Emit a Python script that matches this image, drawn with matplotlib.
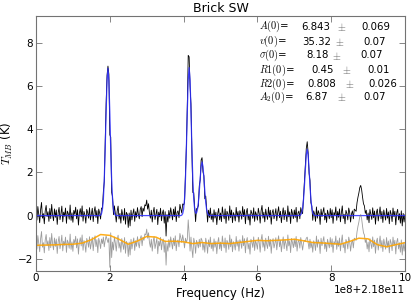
import numpy as np
import matplotlib
matplotlib.use("Agg")
import matplotlib.pyplot as plt

plt.rcParams['mathtext.fontset'] = 'cm'

# ---------------- data (frequency axis in units of 1e8 Hz above 2.18e11 Hz) ----------------
OFFSET_LABEL = '1e8+2.18e11'
STEP = 0.025

# observed minus fitted model (K), one value per channel, channels 0 .. 10 (x1e8 Hz)
residual_K = [
    0.15,-0.21,0.42,0.05,-0.33,0.28,0.61,-0.12,0.09,-0.38,0.22,0.47,-0.05,0.18,-0.27,0.33,-0.14,0.52,0.02,-0.24,
    0.31,-0.08,0.26,-0.41,0.12,0.38,-0.19,0.07,0.44,-0.29,0.16,-0.03,0.35,-0.36,0.21,0.09,-0.17,0.49,-0.22,0.13,
    -0.31,0.24,0.06,0.39,-0.15,0.27,-0.44,0.11,0.32,-0.06,0.45,-0.26,0.19,0.03,-0.35,0.29,0.14,-0.12,0.37,-0.20,
    0.08,0.34,-0.28,0.17,0.41,-0.09,0.23,-0.37,0.30,0.12,-0.18,0.26,0.05,0.35,-0.10,0.20,0.40,0.25,0.10,0.30,
    -1.05,0.55,-0.60,0.12,-0.25,0.36,0.08,-0.30,0.21,0.44,-0.16,0.10,-0.35,0.28,0.02,-0.22,0.33,-0.40,0.15,0.06,
    -0.55,0.12,-0.48,0.25,-0.20,0.09,0.31,-0.27,0.18,-0.08,0.37,0.05,-0.15,0.28,0.42,-0.05,0.35,0.20,0.50,0.45,
    0.72,0.30,0.55,0.10,-0.12,0.25,-0.30,0.14,0.38,-0.18,0.07,0.29,-0.42,0.16,-0.06,0.34,-0.24,0.11,0.26,-0.35,
    0.18,-0.95,0.05,-0.30,0.24,-0.12,0.36,0.08,-0.20,0.30,-0.05,0.41,-0.28,0.15,0.22,-0.10,0.52,0.30,0.10,0.45,
    0.20,-0.15,0.30,0.10,0.25,1.15,0.50,-0.30,0.35,-0.20,-0.60,0.30,0.10,-0.40,0.20,0.05,-0.15,0.25,-0.10,0.30,
    0.20,-0.25,0.10,-0.35,0.30,0.05,-0.40,0.22,-0.10,0.35,-0.18,0.08,-0.30,0.27,-0.12,0.16,-0.42,0.10,0.33,-0.20,
    0.12,-0.28,0.40,0.05,-0.15,0.31,-0.36,0.20,0.08,-0.22,0.45,-0.10,0.26,-0.33,0.14,0.02,-0.25,0.38,-0.07,0.19,
    -0.30,0.23,0.10,-0.17,0.42,-0.05,0.28,-0.38,0.15,0.33,-0.20,0.07,-0.44,0.25,0.11,-0.13,0.36,-0.27,0.18,0.04,
    -0.21,0.34,0.09,-0.35,0.22,0.47,-0.12,0.16,-0.29,0.30,0.02,-0.18,0.39,-0.08,0.25,-0.40,0.13,0.28,-0.15,0.06,
    0.32,-0.24,0.14,0.41,-0.10,0.20,-0.33,0.07,0.36,-0.19,0.24,0.03,-0.28,0.45,-0.06,0.17,-0.37,0.29,0.10,-0.14,
    0.26,-0.09,0.38,-0.30,0.12,0.21,-0.16,0.33,0.05,-0.25,0.10,0.20,0.15,0.30,0.35,0.10,-0.20,0.25,-0.15,0.10,
    -0.35,0.18,0.06,-0.27,0.40,-0.12,0.23,0.09,-0.41,0.30,-0.05,0.16,0.37,-0.20,0.11,-0.32,0.25,0.04,-0.15,0.33,
    -0.10,0.27,-0.36,0.14,0.02,0.40,-0.22,0.19,-0.08,0.31,-0.29,0.12,0.45,-0.14,0.06,-0.38,0.24,0.10,-0.20,0.35,
    0.15,-0.30,0.08,0.22,-0.15,0.30,0.25,0.20,0.60,0.85,1.05,1.30,1.40,1.20,0.85,0.55,0.45,0.10,0.25,-0.20,
    0.12,-0.33,0.28,0.05,-0.18,0.36,-0.10,0.21,-0.40,0.14,0.30,-0.25,0.08,0.40,-0.15,0.19,-0.32,0.26,0.03,-0.21,
    0.33,-0.12,0.17,-0.38,0.24,0.07,-0.28,0.35,-0.05,0.20,-0.43,0.12,0.29,-0.20,0.09,-0.35,0.22,-0.48,0.10,-0.30,
    0.05,
]

# fitted model (K), non-zero segments: (start frequency, values)
model_seg1_start = 1.75
model_seg1 = [0.02,0.09,0.29,0.75,1.67,3.09,4.80,6.26,6.84,6.26,4.80,3.09,1.67,0.75,0.29,0.09,0.02]
model_seg2_start = 3.95
model_seg2 = [0.02,0.09,0.29,0.75,1.67,3.11,4.83,6.29,6.87,6.29,4.83,3.11,1.67,0.76,0.30,0.12,
              0.12,0.28,0.61,1.13,1.75,2.28,2.49,2.28,1.75,1.13,0.61,0.27,0.10,0.03,0.01]
model_seg3_start = 7.15
model_seg3 = [0.01,0.04,0.13,0.34,0.75,1.39,2.16,2.82,3.08,2.82,2.16,1.39,0.75,0.34,0.13,0.04,0.01]

RESID_OFFSET = -1.35

# smoothed residual baseline (orange), sampled every 0.25
smooth_freq = [0.0,0.25,0.5,0.75,1.0,1.25,1.5,1.75,2.0,2.25,2.5,2.75,3.0,3.25,3.5,3.75,4.0,4.25,4.5,4.75,
               5.0,5.25,5.5,5.75,6.0,6.25,6.5,6.75,7.0,7.25,7.5,7.75,8.0,8.25,8.5,8.75,9.0,9.25,9.5,9.75,10.0]
smooth_vals = [-1.38,-1.37,-1.36,-1.34,-1.33,-1.28,-1.12,-0.88,-0.92,-1.10,-1.33,-1.18,-0.97,-1.00,-1.20,-1.19,
               -1.22,-1.30,-1.25,-1.30,-1.28,-1.30,-1.25,-1.20,-1.15,-1.17,-1.15,-1.13,-1.10,-1.17,-1.25,-1.27,
               -1.30,-1.33,-1.20,-1.05,-1.08,-1.35,-1.45,-1.35,-1.26]

fit_labels = [r'$A(0)$=', r'$v(0)$=', r'$\sigma(0)$=', r'$R1(0)$=', r'$R2(0)$=', r'$A_2(0)$=']
fit_values = ['6.843', '35.32', '8.18', '0.45', '0.808', '6.87']
fit_errors = ['0.069', '0.07', '0.07', '0.01', '0.026', '0.07']

# ---------------- build arrays ----------------
resid = np.array(residual_K)
n = len(resid)
x_units = np.linspace(0, 10, n)
model = np.zeros(n)
for start, seg in [(model_seg1_start, model_seg1), (model_seg2_start, model_seg2), (model_seg3_start, model_seg3)]:
    i0 = int(round(start / STEP))
    model[i0:i0 + len(seg)] += np.array(seg)
data = model + resid

# ---------------- figure ----------------
W, H = 415, 302
fig = plt.figure(figsize=(W / 100, H / 100), dpi=100, facecolor='white')
ax = fig.add_axes([36 / W, 1 - 270.5 / H, (405 - 36) / W, (270.5 - 15.7) / H])

ax.plot(x_units, data, color='black', lw=0.6)
ax.plot(x_units, model, color='#2a2aff', lw=0.9, alpha=0.85)
ax.plot(x_units, resid + RESID_OFFSET, color='0.45', lw=0.6, alpha=0.7)
ax.plot(smooth_freq, smooth_vals, color='#ffa500', lw=1.1, alpha=0.9)

ax.set_xlim(0, 10)
ax.set_ylim(-2.55, 9.28)
ax.set_xticks([0, 2, 4, 6, 8, 10])
ax.set_yticks([-2, 0, 2, 4, 6, 8])

for sp in ax.spines.values():
    sp.set_color('0.45')
    sp.set_linewidth(0.8)
ax.tick_params(direction='in', top=True, right=True, length=4, width=0.6, color='0.45',
               labelsize=7.5, pad=2)
ax.text(1.0, -0.058, OFFSET_LABEL, transform=ax.transAxes, ha='right', va='top', fontsize=7.5)

ax.set_title('Brick SW', fontsize=9, pad=3)
ax.set_xlabel('Frequency (Hz)', fontsize=8.5, labelpad=3)
ax.set_ylabel(r'$T_{MB}$ (K)', fontsize=8.5)
ax.yaxis.set_label_coords(-0.056, 0.5)

ys = [26.7, 41.7, 55.5, 70.0, 84.0, 97.5]
vx = [301.7, 301.7, 306.7, 311.7, 307.7, 305.7]
px = [336.7, 335.0, 331.7, 341.7, 345.0, 336.7]
ex = [361.7, 363.3, 360.0, 367.3, 368.3, 363.3]
FS = 7.3
FS_LAB = 7.4
for lab, val, err, y, x1, x2, x3 in zip(fit_labels, fit_values, fit_errors, ys, vx, px, ex):
    fy = 1 - y / H
    fig.text(259 / W, fy, lab, fontsize=FS_LAB, va='center', ha='left')
    fig.text(x1 / W, fy, val, fontsize=FS, va='center', ha='left')
    fig.text(x2 / W, fy, r'$\pm$', fontsize=FS_LAB, va='center', ha='left', color='0.35')
    fig.text(x3 / W, fy, err, fontsize=FS, va='center', ha='left')

fig.savefig('out.png', dpi=100, facecolor='white')
